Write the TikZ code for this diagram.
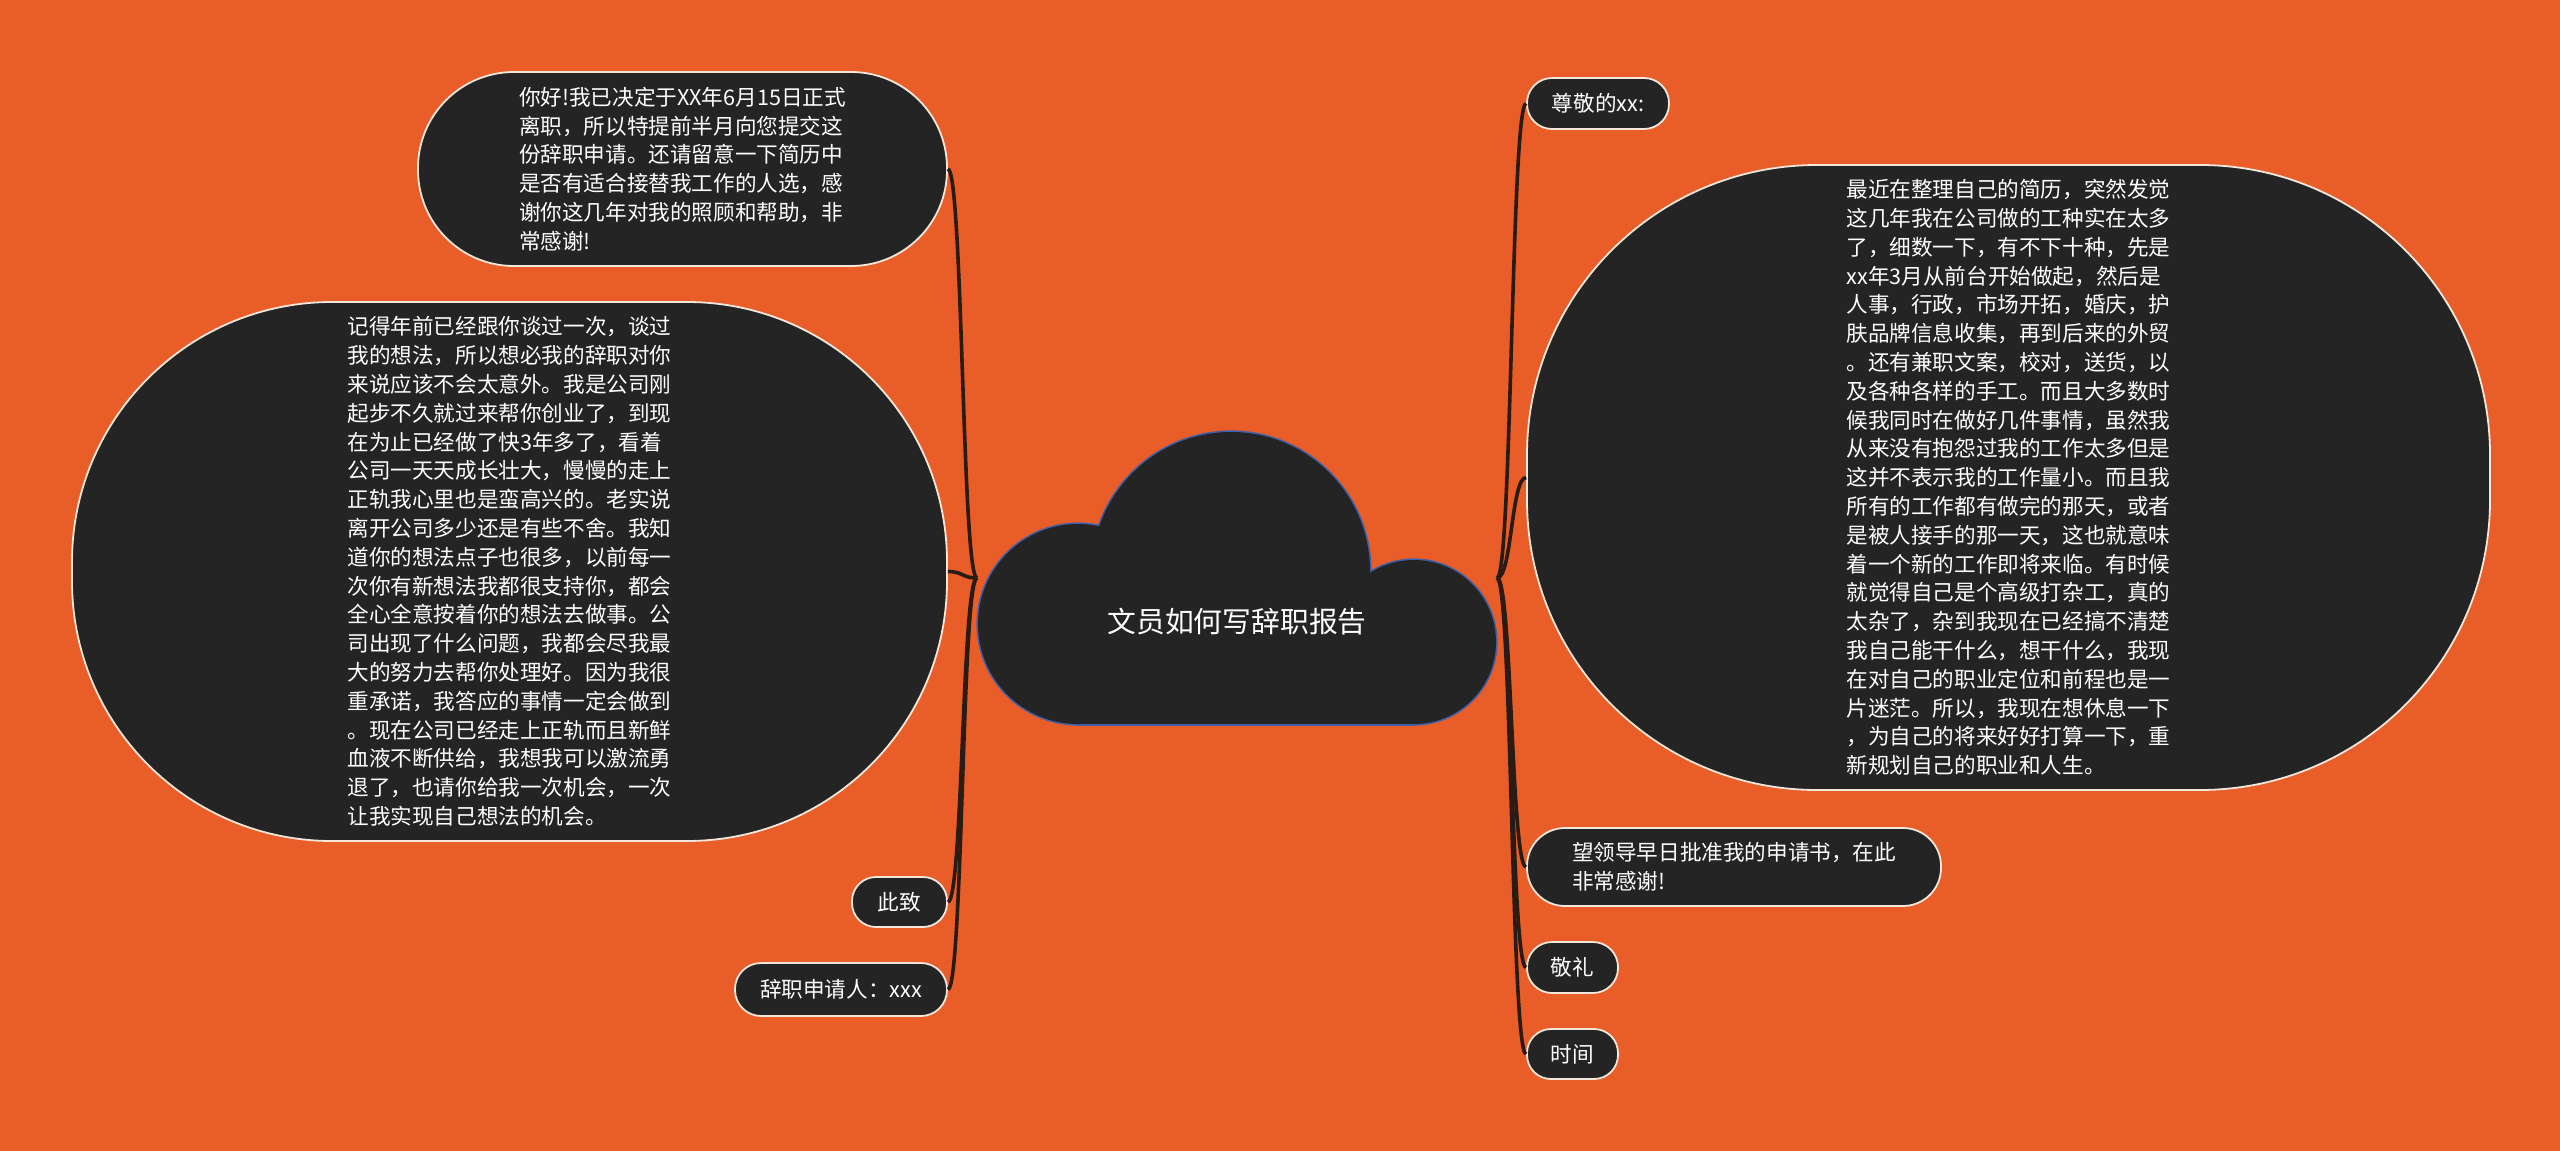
\documentclass[tikz,border=0pt]{standalone}
\usepackage{fontspec}
\setmainfont{Noto Sans CJK SC}
\usetikzlibrary{calc}
\definecolor{bgc}{HTML}{E95E28}
\definecolor{nodefill}{HTML}{242424}
\definecolor{nodeline}{HTML}{F4E6DA}
\definecolor{linecol}{HTML}{2A1B14}
\definecolor{cloudline}{HTML}{3F5FA8}
\newcommand{\bodyfont}{\fontsize{10.8pt}{14.4pt}\selectfont}
\newcommand{\ttlfont}{\fontsize{14.4pt}{18pt}\selectfont}
\tikzset{
  bub/.style={draw=nodeline, fill=nodefill, line width=0.9pt, text=white, font=\bodyfont, align=left, inner sep=0pt},
  conn/.style={draw=linecol, line width=1.8pt},
  cloudedge/.style={draw=cloudline, line width=1.6pt, fill=cloudline},
  cloudbody/.style={fill=nodefill},
}
\begin{document}
\begin{tikzpicture}[x=0.5pt,y=-0.5pt]
\useasboundingbox (0,0) rectangle (2560,1151);
\fill[bgc] (0,0) rectangle (2560,1151);

% cloud: outline pass, then fill pass
\foreach \st in {cloudedge,cloudbody}{
  \path[\st] (1078,624) circle[radius=100];
  \path[\st] (1231,571) circle[radius=139];
  \path[\st] (1414,642) circle[radius=82];
  \path[\st] (1078,624) rectangle (1414,724);
}
\node[text=white, font=\ttlfont, inner sep=0pt] (root) at (1237,622) {文员如何写辞职报告};
\coordinate (hubL) at (977,578);
\coordinate (hubR) at (1497,578);

% left nodes
\node[bub, minimum width=264.5pt, minimum height=97pt, rounded corners=48pt] (tl) at (682.5,169)
 {你好!我已决定于XX年6月15日正式\\离职，所以特提前半月向您提交这\\份辞职申请。还请留意一下简历中\\是否有适合接替我工作的人选，感\\谢你这几年对我的照顾和帮助，非\\常感谢!};
\node[bub, minimum width=437.5pt, minimum height=269.5pt, rounded corners=130pt] (bl) at (509.5,571.5)
 {记得年前已经跟你谈过一次，谈过\\我的想法，所以想必我的辞职对你\\来说应该不会太意外。我是公司刚\\起步不久就过来帮你创业了，到现\\在为止已经做了快3年多了，看着\\公司一天天成长壮大，慢慢的走上\\正轨我心里也是蛮高兴的。老实说\\离开公司多少还是有些不舍。我知\\道你的想法点子也很多，以前每一\\次你有新想法我都很支持你，都会\\全心全意按着你的想法去做事。公\\司出现了什么问题，我都会尽我最\\大的努力去帮你处理好。因为我很\\重承诺，我答应的事情一定会做到\\。现在公司已经走上正轨而且新鲜\\血液不断供给，我想我可以激流勇\\退了，也请你给我一次机会，一次\\让我实现自己想法的机会。};
\node[bub, minimum width=47.5pt, minimum height=25pt, rounded corners=12pt] (cz) at (899.5,902) {此致};
\node[bub, minimum width=106pt, minimum height=26.5pt, rounded corners=13pt] (sq) at (841,989.5) {辞职申请人：xxx};

% right nodes
\node[bub, minimum width=71pt, minimum height=25.5pt, rounded corners=12.5pt] (zj) at (1598,103.5) {尊敬的xx:};
\node[bub, minimum width=481.5pt, minimum height=312.5pt, rounded corners=145pt] (rb) at (2008.5,477.5)
 {最近在整理自己的简历，突然发觉\\这几年我在公司做的工种实在太多\\了，细数一下，有不下十种，先是\\xx年3月从前台开始做起，然后是\\人事，行政，市场开拓，婚庆，护\\肤品牌信息收集，再到后来的外贸\\。还有兼职文案，校对，送货，以\\及各种各样的手工。而且大多数时\\候我同时在做好几件事情，虽然我\\从来没有抱怨过我的工作太多但是\\这并不表示我的工作量小。而且我\\所有的工作都有做完的那天，或者\\是被人接手的那一天，这也就意味\\着一个新的工作即将来临。有时候\\就觉得自己是个高级打杂工，真的\\太杂了，杂到我现在已经搞不清楚\\我自己能干什么，想干什么，我现\\在对自己的职业定位和前程也是一\\片迷茫。所以，我现在想休息一下\\，为自己的将来好好打算一下，重\\新规划自己的职业和人生。};
\node[bub, minimum width=207pt, minimum height=39pt, rounded corners=19pt] (wl) at (1734,867) {望领导早日批准我的申请书，在此\\非常感谢!};
\node[bub, minimum width=45.5pt, minimum height=25.5pt, rounded corners=12.5pt] (jl) at (1572.5,967.5) {敬礼};
\node[bub, minimum width=45.5pt, minimum height=25pt, rounded corners=12pt] (sj) at (1572.5,1054) {时间};

% connectors
\foreach \n in {tl,bl,cz,sq}{
  \draw[conn] (hubL) .. controls ($(hubL)+(-15,0)$) and ($(\n.east)+(15,0)$) .. (\n.east);
}
\foreach \n in {zj,rb,wl,jl,sj}{
  \draw[conn] (hubR) .. controls ($(hubR)+(15,0)$) and ($(\n.west)+(-15,0)$) .. (\n.west);
}
\end{tikzpicture}
\end{document}
